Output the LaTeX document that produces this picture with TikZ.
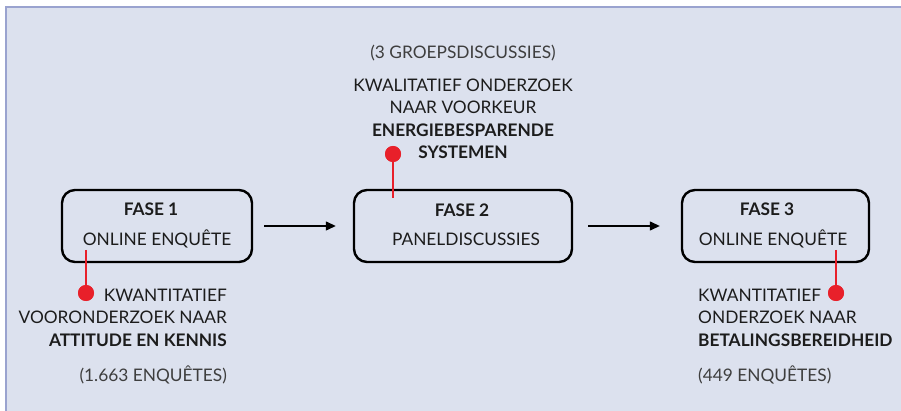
\documentclass[tikz,border=0pt]{standalone}
\usepackage{fontspec}
\setmainfont{Lato}
\usetikzlibrary{arrows.meta}
\definecolor{bgfill}{HTML}{DCE1EE}
\definecolor{bgline}{HTML}{9AA3CF}
\definecolor{ink}{HTML}{1C1C1C}
\definecolor{dotred}{HTML}{E8202A}
\tikzset{
  phase/.style={draw=black, line width=2.4pt, rounded corners=13pt, minimum width=#1, minimum height=72pt, inner sep=0pt},
  phase/.default=190pt,
  lbl/.style={text=ink, font=\fontsize{17.3}{22.5}\selectfont, inner sep=0pt},
  bl/.style={text=ink, font=\fontsize{17.3}{22.5}\selectfont\bfseries, inner sep=0pt},
  arr/.style={-{Triangle[length=10pt,width=9pt]}, line width=1.3pt, black},
  pin/.style={draw=dotred, line width=1.2pt},
  dot/.style={circle, fill=dotred, minimum size=16pt, inner sep=0pt}
}
\begin{document}
\begin{tikzpicture}[x=1pt,y=-1pt]
\useasboundingbox (0,0) rectangle (901,411);
\fill[white] (0,0) rectangle (901,411);
\fill[bgfill] (6,7) rectangle (901,411);
\draw[bgline, line width=1.6pt] (6,411) -- (6,7) -- (901,7);
% boxes
\node[phase=190pt] (b1) at (157,226) {};
\node[phase=218pt] (b2) at (463,226) {};
\node[phase=187pt] (b3) at (775.5,226) {};
\node[bl, anchor=base] (f1) at (151,216) {FASE 1};
\node[lbl, anchor=base] (o1) at (157,246) {ONLINE ENQUÊTE};
\node[bl, anchor=base] (f2) at (462,216.5) {FASE 2};
\node[lbl, anchor=base] (o2) at (466,246) {PANELDISCUSSIES};
\node[bl, anchor=base] (f3) at (767,216) {FASE 3};
\node[lbl, anchor=base] (o3) at (773,246) {ONLINE ENQUÊTE};
% arrows
\path (b1.east) ++(11,0) coordinate (a1s);
\path (b2.west) ++(-17,0) coordinate (a1e);
\path (b2.east) ++(15,0) coordinate (a2s);
\path (b3.west) ++(-21,0) coordinate (a2e);
\draw[arr] (a1s) -- (a1e);
\draw[arr] (a2s) -- (a2e);
% pins
\coordinate (p1top) at (86,250);
\coordinate (p2bot) at (393,198);
\coordinate (p3top) at (836,250);
\node[dot] (d1) at (86,293) {};
\node[dot] (d2) at (393,154) {};
\node[dot] (d3) at (836,293) {};
\draw[pin] (p1top) -- (d1.center);
\draw[pin] (p2bot) -- (d2.center);
\draw[pin] (p3top) -- (d3.center);
\fill[dotred] (d1.center) circle (8pt);
\fill[dotred] (d2.center) circle (8pt);
\fill[dotred] (d3.center) circle (8pt);
% texts (base anchor = last line)
\node[lbl, anchor=base east, align=right] (t1) at (227,346) {KWANTITATIEF\\VOORONDERZOEK NAAR\\\textbf{ATTITUDE EN KENNIS}};
\node[lbl, anchor=base east, text=ink!85] (n1) at (227,381) {(1.663 ENQUÊTES)};
\node[lbl, anchor=base, text=ink!85] (n2) at (463,59) {(3 GROEPSDISCUSSIES)};
\node[lbl, anchor=base, align=center] (t2) at (463,159) {KWALITATIEF ONDERZOEK\\NAAR VOORKEUR\\\textbf{ENERGIEBESPARENDE}\\\textbf{SYSTEMEN}};
\node[lbl, anchor=base west, align=left] (t3) at (698,346) {KWANTITATIEF\\ONDERZOEK NAAR\\\textbf{BETALINGSBEREIDHEID}};
\node[lbl, anchor=base west, text=ink!85] (n3) at (698,381) {(449 ENQUÊTES)};
\end{tikzpicture}
\end{document}
